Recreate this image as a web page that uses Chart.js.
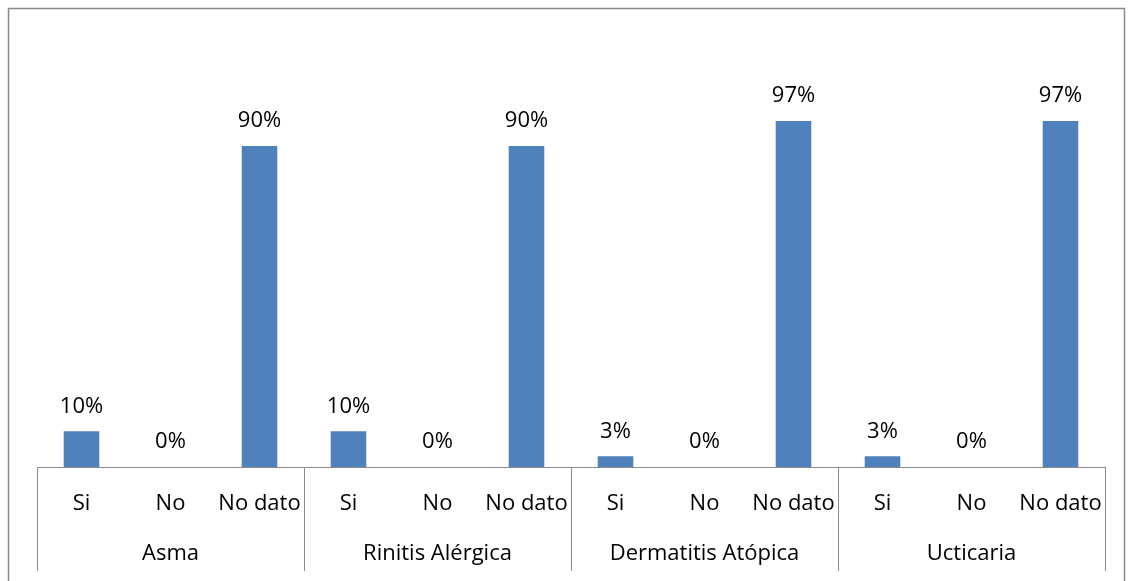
<!DOCTYPE html>
<html>
<head>
<meta charset="utf-8">
<script src="https://cdn.jsdelivr.net/npm/chart.js@4.4.1/dist/chart.umd.min.js"></script>
<style>
  html, body { margin: 0; padding: 0; background: #fff; overflow: hidden; }
  #contenedor { width: 1135px; height: 581px; }
</style>
</head>
<body>
<div id="contenedor"><canvas id="grafico"></canvas></div>
<script>
// Datos
const enfermedades = ['Asma', 'Rinitis Alérgica', 'Dermatitis Atópica', 'Ucticaria'];
const respuestas = ['Si', 'No', 'No dato'];
const porcentajes = [10, 0, 90, 10, 0, 90, 3, 0, 97, 3, 0, 97];

const etiquetas = enfermedades.flatMap(() => respuestas);
const fuente = "'Open Sans', sans-serif";
const gris = '#8a8a8a';

// Marco exterior del gráfico
const marco = {
  id: 'marco',
  beforeDraw(chart) {
    const c = chart.ctx;
    c.save();
    c.strokeStyle = gris;
    c.lineWidth = 1.5;
    c.strokeRect(8.5, 8.5, 1116, 700);
    c.restore();
  }
};

// Líneas que separan cada grupo en el eje de categorías
const separadores = {
  id: 'separadores',
  afterDraw(chart) {
    const x = chart.scales.x;
    const x2 = chart.scales.x2;
    const c = chart.ctx;
    c.save();
    c.strokeStyle = gris;
    c.lineWidth = 1;
    for (let g = 0; g <= enfermedades.length; g++) {
      const px = Math.round(x.left + (x.right - x.left) * g / enfermedades.length) + 0.5;
      c.beginPath();
      c.moveTo(px, x.top);
      c.lineTo(px, x2.bottom);
      c.stroke();
    }
    c.restore();
  }
};

// Porcentaje encima de cada barra
const valores = {
  id: 'valores',
  afterDatasetsDraw(chart) {
    const c = chart.ctx;
    const meta = chart.getDatasetMeta(0);
    c.save();
    c.font = '22px ' + fuente;
    c.fillStyle = '#000';
    c.textAlign = 'center';
    c.textBaseline = 'middle';
    meta.data.forEach((barra, i) => {
      const v = chart.data.datasets[0].data[i];
      c.fillText(v + '%', barra.x, barra.y - 25);
    });
    c.restore();
  }
};

const config = {
  type: 'bar',
  data: {
    labels: etiquetas,
    datasets: [{
      data: porcentajes,
      backgroundColor: '#4f81bd',
      borderWidth: 0,
      barPercentage: 0.4,
      categoryPercentage: 1
    }]
  },
  options: {
    responsive: true,
    maintainAspectRatio: false,
    animation: false,
    layout: { padding: { left: 37, right: 30, top: 39, bottom: 10 } },
    plugins: {
      legend: { display: false },
      tooltip: { enabled: false }
    },
    scales: {
      x: {
        position: 'bottom',
        offset: true,
        grid: { display: false, drawTicks: false },
        border: { display: true, color: gris, width: 1 },
        ticks: { color: '#000', font: { family: fuente, size: 22 }, padding: 24, maxRotation: 0, autoSkip: false },
        afterFit(s) { s.height = 50; }
      },
      x2: {
        type: 'category',
        position: 'bottom',
        labels: enfermedades,
        offset: true,
        grid: { display: false, drawTicks: false },
        border: { display: false },
        ticks: { color: '#000', font: { family: fuente, size: 22 }, padding: 24, maxRotation: 0, autoSkip: false },
        afterFit(s) { s.height = 54; }
      },
      y: {
        display: false,
        min: 0,
        max: 120
      }
    }
  },
  plugins: [marco, separadores, valores]
};

new Chart(document.getElementById('grafico').getContext('2d'), config);
</script>
</body>
</html>
